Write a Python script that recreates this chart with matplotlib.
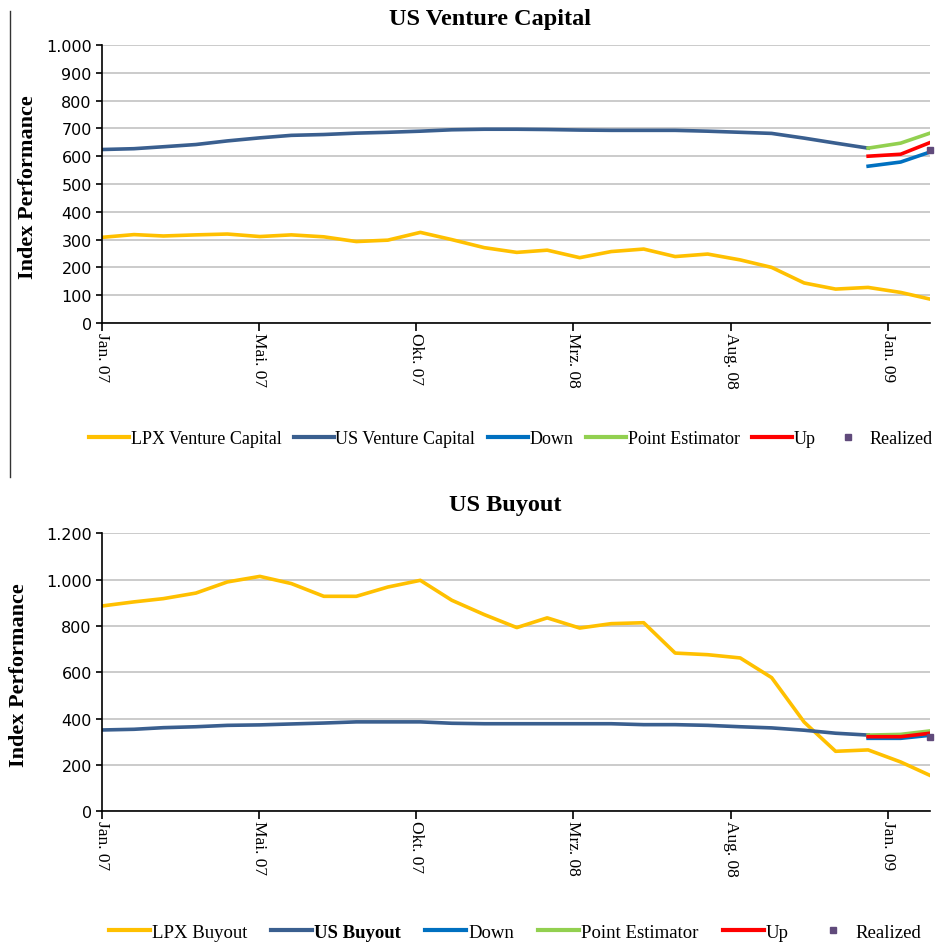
import numpy as np
import pandas as pd
import matplotlib
matplotlib.use("Agg")
import matplotlib.pyplot as plt
from matplotlib.lines import Line2D
from matplotlib.ticker import FuncFormatter, MultipleLocator

# Monatswerte Jan. 07 - Mrz. 09
dates = pd.date_range("2007-01-01", periods=27, freq="MS")
tick_labels = ["Jan. 07", "Mai. 07", "Okt. 07", "Mrz. 08", "Aug. 08", "Jan. 09"]

# US Venture Capital
lpx_vc = [308, 318, 313, 317, 320, 311, 317, 310, 293, 298, 326, 300, 271,
          254, 262, 235, 257, 266, 239, 248, 227, 200, 144, 122, 128, 110, 86]
us_vc = [624, 627, 634, 642, 655, 666, 675, 678, 683, 686, 690, 695, 697,
         697, 696, 694, 693, 693, 693, 690, 686, 682, 665, 647, 629]
vc_down = [564, 579, 615]
vc_point = [629, 647, 683]
vc_up = [600, 607, 649]
vc_realized = [621]

# US Buyout
lpx_bo = [886, 904, 918, 942, 990, 1014, 983, 928, 928, 968, 997, 911, 849,
          793, 835, 791, 810, 814, 683, 676, 662, 577, 385, 259, 265, 213, 155]
us_bo = [351, 354, 361, 365, 371, 373, 377, 381, 386, 386, 386, 380, 378,
         378, 378, 378, 378, 374, 374, 371, 365, 360, 350, 337, 329]
bo_down = [315, 315, 328]
bo_point = [329, 332, 347]
bo_up = [322, 322, 337]
bo_realized = [320]

C_LPX = "#FFC000"
C_US = "#3A5F8F"
C_DOWN = "#0070C0"
C_PE = "#92D050"
C_UP = "#FF0000"
C_REAL = "#604A7B"
SERIF = "Liberation Serif"

W, H = 935, 945
fig = plt.figure(figsize=(W / 100, H / 100), dpi=100)


def px(x0, y0, x1, y1):
    return [x0 / W, 1 - y1 / H, (x1 - x0) / W, (y1 - y0) / H]


def make_panel(rect, lpx, us, down, point, up, realized, ymax, ystep):
    ax = fig.add_axes(rect)
    ax.plot(dates, lpx, color=C_LPX, lw=2.6, solid_joinstyle="round")
    ax.plot(dates[:len(us)], us, color=C_US, lw=2.6, solid_joinstyle="round")
    fc = dates[-3:]
    ax.plot(fc, down, color=C_DOWN, lw=2.6)
    ax.plot(fc, point, color=C_PE, lw=2.6)
    ax.plot(fc, up, color=C_UP, lw=2.6)
    ax.plot(dates[-1:], realized, ls="none", marker="s", ms=4,
            color=C_REAL, clip_on=False)

    ax.set_xlim(dates[0], dates[-1])
    ax.set_ylim(0, ymax)
    ax.yaxis.set_major_locator(MultipleLocator(ystep))
    ax.yaxis.set_major_formatter(
        FuncFormatter(lambda v, p: f"{int(v):,}".replace(",", ".")))
    ax.grid(axis="y", color="#BDBDBD", lw=1.1)
    ax.set_axisbelow(True)

    ticks = [dates[0] + pd.Timedelta(days=150 * k) for k in range(6)]
    ax.set_xticks(ticks)
    ax.set_xticklabels(tick_labels, rotation=270, family=SERIF, fontsize=12.5,
                       va="top", ha="center")
    ax.tick_params(axis="x", length=6, width=1.2, pad=0.5)
    ax.tick_params(axis="y", length=4, width=1.2, labelsize=11.5, pad=3)
    for s in ("top", "right"):
        ax.spines[s].set_visible(False)
    for s in ("left", "bottom"):
        ax.spines[s].set_linewidth(1.2)
    return ax


ax1 = make_panel(px(101.5, 46, 930, 324), lpx_vc, us_vc, vc_down, vc_point,
                 vc_up, vc_realized, 1000, 100)
ax2 = make_panel(px(101.5, 534.3, 930, 812.3), lpx_bo, us_bo, bo_down,
                 bo_point, bo_up, bo_realized, 1200, 200)

# Titel und Achsenbeschriftung
fig.text(490 / W, 1 - 19 / H, "US Venture Capital", ha="center", va="center",
         family=SERIF, fontweight="bold", fontsize=17.5)
fig.text(505 / W, 1 - 506 / H, "US Buyout", ha="center", va="center",
         family=SERIF, fontweight="bold", fontsize=17.5)
fig.text(28 / W, 1 - 187 / H, "Index Performance", rotation=90, ha="center",
         va="center", family=SERIF, fontweight="bold", fontsize=16)
fig.text(19 / W, 1 - 675 / H, "Index Performance", rotation=90, ha="center",
         va="center", family=SERIF, fontweight="bold", fontsize=16)

# linke Randlinie oben
fig.add_artist(Line2D([10 / W, 10 / W], [1 - 12 / H, 1 - 478 / H],
                      color="#333333", lw=1.0))


def legend_handles(names):
    hs = [Line2D([], [], color=C_LPX, lw=3),
          Line2D([], [], color=C_US, lw=3),
          Line2D([], [], color=C_DOWN, lw=3),
          Line2D([], [], color=C_PE, lw=3),
          Line2D([], [], color=C_UP, lw=3),
          Line2D([], [], ls="none", marker="s", ms=4, color=C_REAL)]
    return hs, names


h, n = legend_handles(["LPX Venture Capital", "US Venture Capital", "Down",
                       "Point Estimator", "Up", "Realized"])
fig.legend(h, n, loc="center", bbox_to_anchor=(511 / W, 1 - 440 / H), ncol=6,
           frameon=False, prop={"family": SERIF, "size": 13},
           handlelength=2.2, handletextpad=0.1, columnspacing=0.7)

h, n = legend_handles(["LPX Buyout", "US Buyout", "Down", "Point Estimator",
                       "Up", "Realized"])
leg2 = fig.legend(h, n, loc="center", bbox_to_anchor=(515 / W, 1 - 933 / H),
                  ncol=6, frameon=False, prop={"family": SERIF, "size": 13.5},
                  handlelength=2.2, handletextpad=0.1, columnspacing=1.28)
leg2.get_texts()[1].set_fontweight("bold")

fig.savefig("out.png", dpi=100)
